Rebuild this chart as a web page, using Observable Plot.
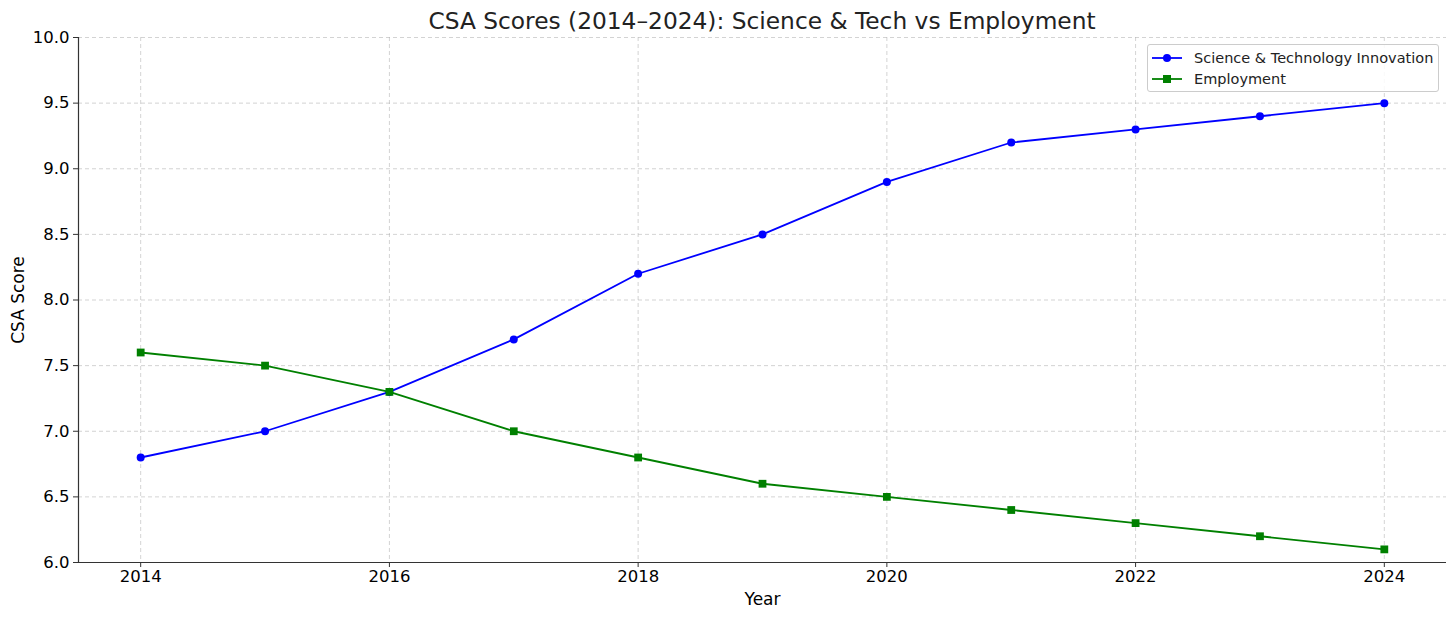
<!DOCTYPE html>
<html><head><meta charset="utf-8">
<script src="https://cdn.jsdelivr.net/npm/d3@7"></script>
<script src="https://cdn.jsdelivr.net/npm/@observablehq/plot@0.6"></script>
<style>
body{margin:0;background:#fff;font-family:"DejaVu Sans",sans-serif;}
#wrap{position:relative;width:1456px;height:618px;}
#title{height:20px;line-height:42px;text-align:center;font-size:23.3px;color:#222;position:relative;z-index:1;margin-left:68px;}
#legend{position:absolute;left:1147px;top:44px;width:292px;height:48px;border:1px solid #ccc;border-radius:3px;background:rgba(255,255,255,0.85);font-size:14.5px;color:#222;box-sizing:border-box;}
.item{position:absolute;left:0;height:20px;line-height:20px;}
.item svg{position:absolute;left:3px;top:0;}
.item span{position:absolute;left:46px;white-space:nowrap;}
</style></head>
<body>
<div id="wrap">
<div id="title">CSA Scores (2014–2024): Science &amp; Tech vs Employment</div>
<div id="chart"></div>
<div id="legend"></div>
</div>
<script>
const years = [2014,2015,2016,2017,2018,2019,2020,2021,2022,2023,2024];
const science = [6.8,7.0,7.3,7.7,8.2,8.5,8.9,9.2,9.3,9.4,9.5];
const employment = [7.6,7.5,7.3,7.0,6.8,6.6,6.5,6.4,6.3,6.2,6.1];
const seriesNames = ["Science & Technology Innovation","Employment"];
const colors = ["#0000ff","#008000"];
const xTicks = [2014,2016,2018,2020,2022,2024];
const yTicks = [6.0,6.5,7.0,7.5,8.0,8.5,9.0,9.5,10.0];

const sci = years.map((y,i)=>({year:y, v:science[i]}));
const emp = years.map((y,i)=>({year:y, v:employment[i]}));

const plot = Plot.plot({
  width:1456, height:598,
  marginTop:17, marginBottom:56, marginLeft:78, marginRight:10,
  style:{fontFamily:"DejaVu Sans, sans-serif", fontSize:"16.5px", color:"#000", background:"transparent", overflow:"visible"},
  x:{domain:[2013.5,2024.5]},
  y:{domain:[6,10]},
  marks:[
    Plot.gridX(xTicks,{stroke:"#b0b0b0", strokeOpacity:0.7, strokeDasharray:"4,3", strokeWidth:0.8}),
    Plot.gridY(yTicks,{stroke:"#b0b0b0", strokeOpacity:0.7, strokeDasharray:"4,3", strokeWidth:0.8}),
    Plot.axisX(xTicks,{tickFormat:d=>String(d), tickSize:5, tickPadding:3, fontSize:16.5, label:null, stroke:"#333"}),
    Plot.axisY(yTicks,{tickFormat:d3.format(".1f"), tickSize:5, tickPadding:4, fontSize:16.5, label:null, stroke:"#333"}),
    Plot.ruleX([2013.5],{stroke:"#333", strokeWidth:1.2}),
    Plot.ruleY([6],{stroke:"#333", strokeWidth:1.2}),
    Plot.text(["Year"],{frameAnchor:"bottom", dy:42, fontSize:17, fill:"#000"}),
    Plot.text(["CSA Score"],{frameAnchor:"left", dx:-60, rotate:-90, textAnchor:"middle", fontSize:17, fill:"#000"}),
    Plot.line(sci,{x:"year", y:"v", stroke:colors[0], strokeWidth:1.8}),
    Plot.dot(sci,{x:"year", y:"v", fill:colors[0], r:4, symbol:"circle"}),
    Plot.line(emp,{x:"year", y:"v", stroke:colors[1], strokeWidth:1.8}),
    Plot.dot(emp,{x:"year", y:"v", fill:colors[1], r:4.4, symbol:"square"})
  ]
});
document.getElementById("chart").appendChild(plot);

const leg = document.getElementById("legend");
seriesNames.forEach((n,i)=>{
  const d = document.createElement("div");
  d.className="item";
  d.style.top = (3 + i*21) + "px";
  const marker = i===0 ? `<circle cx="16" cy="10" r="4" fill="${colors[i]}"/>` : `<rect x="12" y="6" width="8" height="8" fill="${colors[i]}"/>`;
  d.innerHTML = `<svg width="34" height="20"><line x1="1" x2="31" y1="10" y2="10" stroke="${colors[i]}" stroke-width="1.8"/>${marker}</svg><span></span>`;
  d.querySelector("span").textContent = n;
  leg.appendChild(d);
});
</script>
</body></html>
